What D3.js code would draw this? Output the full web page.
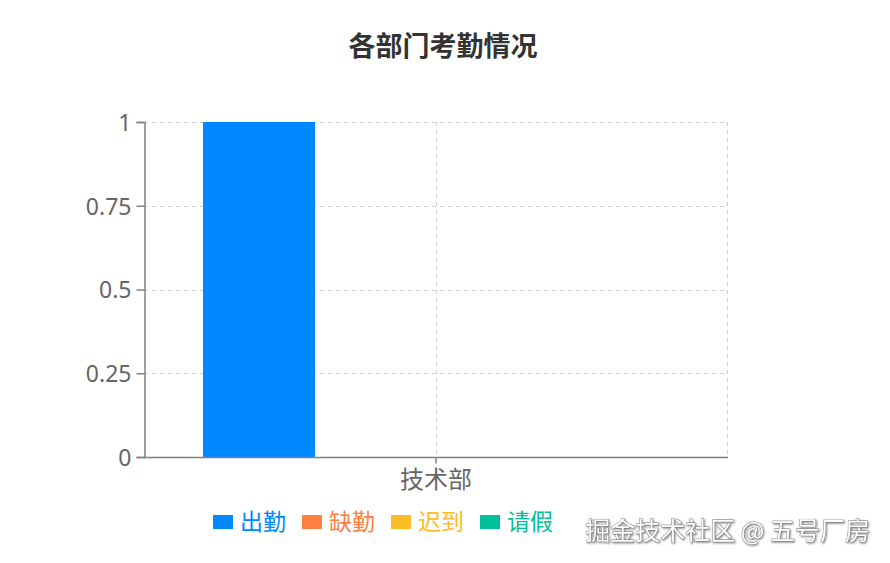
<!DOCTYPE html>
<html>
<head>
<meta charset="utf-8">
<script src="https://cdn.jsdelivr.net/npm/d3@7"></script>
<style>
  html, body { margin: 0; padding: 0; background: #fff; }
  svg { display: block; font-family: "Noto Sans CJK SC", "Noto Sans", sans-serif; }
</style>
</head>
<body>
<svg id="chart" width="890" height="563"></svg>
<script>
// Attendance by department
const title = "各部门考勤情况";
const departments = ["技术部"];
const seriesNames = ["出勤", "缺勤", "迟到", "请假"];
const seriesColors = ["#0088ff", "#ff8040", "#fbbc25", "#00c09a"];
const values = [
  // one row per department, one column per series
  [1, 0, 0, 0]
];
const yTicks = [0, 0.25, 0.5, 0.75, 1];
const watermark = "掘金技术社区 @ 五号厂房";

const svg = d3.select("#chart");
const margin = { left: 144, right: 162, top: 122, bottom: 106 };
const W = 890, H = 563;
const plotW = W - margin.left - margin.right;
const plotH = H - margin.top - margin.bottom;

const g = svg.append("g").attr("transform", `translate(${margin.left},${margin.top})`);

const x0 = d3.scaleBand().domain(departments).range([0, plotW]).paddingInner(0).paddingOuter(0.1266);
const x1 = d3.scaleBand().domain(seriesNames).range([0, x0.bandwidth()]).paddingInner(0.05);
const y = d3.scaleLinear().domain([0, 1]).range([plotH, 0]);

// grid
const grid = g.append("g").attr("stroke", "#cfcfcf").attr("stroke-dasharray", "4,4").attr("stroke-width", 1);
yTicks.filter(t => t > 0).forEach(t => {
  grid.append("line").attr("x1", 0).attr("x2", plotW).attr("y1", Math.round(y(t)) + 0.5).attr("y2", Math.round(y(t)) + 0.5);
});
departments.forEach(d => {
  const cx = Math.round(x0(d) + x0.bandwidth() / 2) + 0.5;
  grid.append("line").attr("x1", cx).attr("x2", cx).attr("y1", 0).attr("y2", plotH);
});
grid.append("line").attr("x1", plotW - 0.5).attr("x2", plotW - 0.5).attr("y1", 0).attr("y2", plotH);

// bars
const groups = g.selectAll("g.dept").data(departments).join("g")
  .attr("class", "dept")
  .attr("transform", d => `translate(${x0(d)},0)`);
groups.selectAll("rect")
  .data((d, i) => seriesNames.map((s, j) => ({ s, v: values[i][j], c: seriesColors[j] })))
  .join("rect")
  .attr("x", d => x1(d.s))
  .attr("width", x1.bandwidth())
  .attr("y", d => y(d.v))
  .attr("height", d => plotH - y(d.v))
  .attr("fill", d => d.c);

// axes
const yAxis = g.append("g").attr("transform", "translate(0.5,0)")
  .call(d3.axisLeft(y).tickValues(yTicks).tickSize(8).tickPadding(5).tickFormat(d3.format("~g")));
const xAxis = g.append("g").attr("transform", `translate(0,${plotH + 0.5})`)
  .call(d3.axisBottom(x0).tickSize(6).tickPadding(4));
[yAxis, xAxis].forEach(a => {
  a.select(".domain").attr("stroke", "#808080").attr("stroke-width", 1.5);
  a.selectAll(".tick line").attr("stroke", "#808080").attr("stroke-width", 1.5);
  a.selectAll(".tick text").attr("fill", "#666");
});
yAxis.selectAll(".tick text").attr("dy", "0.36em").attr("font-size", 23)
  .attr("font-family", "\"Noto Sans\", sans-serif");
xAxis.selectAll(".tick text").attr("dy", "0.85em").attr("font-size", 24)
  .attr("font-family", "\"Noto Sans CJK SC\", sans-serif");
xAxis.select(".domain").attr("d", `M0,0H${plotW}`);

// title
svg.append("text").attr("x", 443).attr("y", 56).attr("text-anchor", "middle")
  .attr("font-size", 27).attr("font-weight", "bold").attr("fill", "#333").text(title);

// legend
const legend = svg.append("g").attr("transform", "translate(213,522)");
let lx = 0;
seriesNames.forEach((s, i) => {
  const item = legend.append("g").attr("transform", `translate(${lx},0)`);
  item.append("rect").attr("x", 0).attr("y", -7).attr("width", 20).attr("height", 14).attr("fill", seriesColors[i]);
  const t = item.append("text").attr("x", 27).attr("y", 0).attr("dy", "0.36em")
    .attr("font-size", 23).attr("fill", seriesColors[i]).text(s);
  lx += 27 + t.node().getComputedTextLength() + 16;
});

// watermark
svg.append("text").attr("x", 870).attr("y", 540).attr("text-anchor", "end")
  .attr("font-size", 25).attr("fill", "#fff")
  .attr("stroke", "#777").attr("stroke-width", 0.8).attr("paint-order", "stroke")
  .style("filter", "drop-shadow(1px 1px 1px rgba(0,0,0,0.5))")
  .text(watermark);
</script>
</body>
</html>
